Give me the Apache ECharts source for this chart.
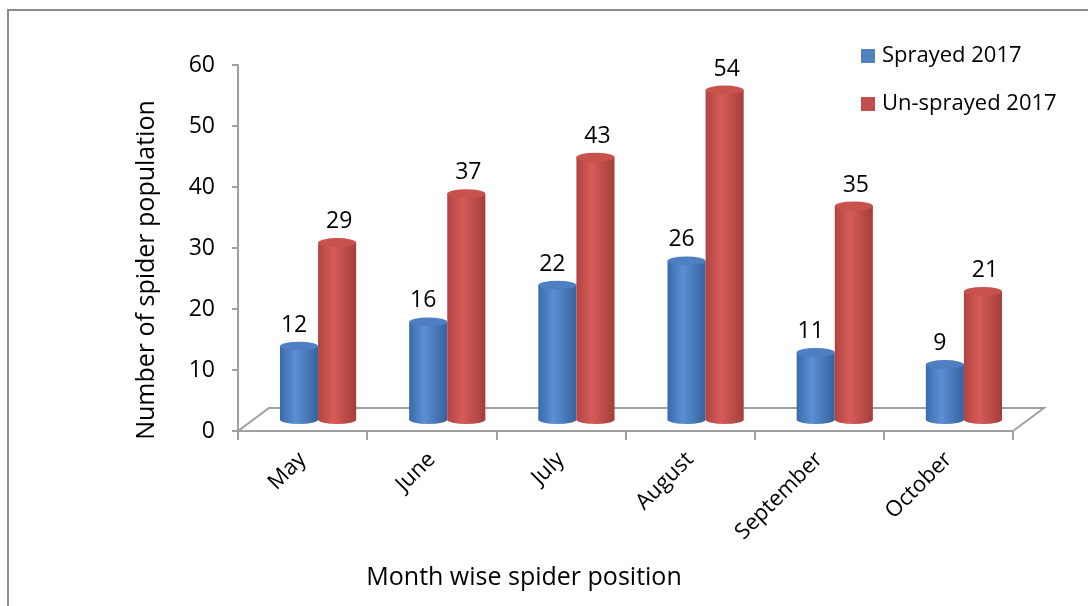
<!DOCTYPE html>
<html>
<head>
<meta charset="utf-8">
<script src="https://cdn.jsdelivr.net/npm/echarts@6/dist/echarts.min.js"></script>
<style>
  html, body { margin: 0; padding: 0; background: #fff; }
  #chart { width: 1088px; height: 606px; }
</style>
</head>
<body>
<div id="chart"></div>
<script>
// Monthly spider counts, sprayed vs. un-sprayed plots (2017)
const categories = ['May', 'June', 'July', 'August', 'September', 'October'];
const sprayed2017 = [12, 16, 22, 26, 11, 9];
const unsprayed2017 = [29, 37, 43, 54, 35, 21];
const seriesNames = ['Sprayed 2017', 'Un-sprayed 2017'];
const xTitle = 'Month wise spider position';
const yTitle = 'Number of spider population';

const FONT = '"Open Sans", "Noto Sans", sans-serif';
const AXIS_GREY = '#a0a0a0';

// pseudo-3D depth of the floor (pixels)
const DEPTH_DX = 31;
const DEPTH_DY = -23;

const palettes = [
  { base: '#4f81bd', left: '#3b6aab', light: '#5b90d4', right: '#36619c', top: '#4d7fc2' },
  { base: '#c0504d', left: '#b04441', light: '#d65c58', right: '#a43d3a', top: '#c9524e' }
];

function ellipse(cx, cy, rx, ry, fill) {
  return {
    type: 'circle',
    x: cx, y: cy,
    scaleY: ry / rx,
    shape: { cx: 0, cy: 0, r: rx },
    style: { fill: fill }
  };
}

function sideGradient(pal) {
  return new echarts.graphic.LinearGradient(0, 0, 1, 0, [
    { offset: 0, color: pal.left },
    { offset: 0.4, color: pal.light },
    { offset: 1, color: pal.right }
  ]);
}

function cylinderRenderer(seriesIdx) {
  const pal = palettes[seriesIdx];
  return function (params, api) {
    const idx = api.value(0);
    const val = api.value(1);
    const top = api.coord([idx, val]);
    const base = api.coord([idx, 0]);
    const band = api.size([1, 0])[0];
    const bw = band * 0.295;
    const x0 = top[0] + DEPTH_DX / 2 + (seriesIdx === 0 ? -bw : 0);
    const cx = x0 + bw / 2;
    const topY = top[1] + DEPTH_DY / 2;
    const botY = base[1] + DEPTH_DY / 2;
    const rx = bw / 2;
    const ry = 4.5;
    return {
      type: 'group',
      children: [
        ellipse(cx, botY, rx, ry, sideGradient(pal)),
        {
          type: 'rect',
          shape: { x: x0, y: topY, width: bw, height: botY - topY },
          style: { fill: sideGradient(pal) }
        },
        ellipse(cx, topY, rx, ry, pal.top),
        {
          type: 'text',
          x: cx + (seriesIdx === 0 ? -5 : 2), y: topY - ry - 5,
          style: {
            text: String(val),
            fill: '#000',
            font: '23px ' + FONT,
            textAlign: 'center',
            textVerticalAlign: 'bottom'
          }
        }
      ]
    };
  };
}

function floorRenderer(params, api) {
  const cs = params.coordSys;
  const fx = cs.x, fy = cs.y + cs.height, w = cs.width;
  return {
    type: 'polyline',
    shape: {
      points: [
        [fx, fy],
        [fx + DEPTH_DX, fy + DEPTH_DY],
        [fx + w + DEPTH_DX, fy + DEPTH_DY],
        [fx + w, fy]
      ]
    },
    style: { stroke: AXIS_GREY, lineWidth: 2, fill: null }
  };
}

const chart = echarts.init(document.getElementById('chart'), null, { renderer: 'canvas' });

chart.setOption({
  animation: false,
  backgroundColor: '#fff',
  textStyle: { fontFamily: FONT },
  grid: { left: 238, top: 65, width: 775, height: 366, containLabel: false },
  legend: {
    orient: 'vertical',
    left: 856,
    top: 40,
    icon: 'rect',
    itemWidth: 14,
    itemHeight: 14,
    itemGap: 26,
    data: seriesNames,
    textStyle: { fontSize: 22, color: '#000', fontFamily: FONT, padding: [0, 0, 0, 2] }
  },
  xAxis: {
    type: 'category',
    data: categories,
    boundaryGap: true,
    axisLine: { lineStyle: { color: AXIS_GREY, width: 2 } },
    axisTick: { show: true, alignWithLabel: false, length: 9, lineStyle: { color: AXIS_GREY, width: 2 } },
    axisLabel: { rotate: 45, fontSize: 22, color: '#000', margin: 25, fontFamily: FONT },
    splitLine: { show: false }
  },
  yAxis: {
    type: 'value',
    min: 0,
    max: 60,
    interval: 10,
    axisLine: { show: true, lineStyle: { color: AXIS_GREY, width: 2 } },
    axisTick: { show: true, length: 6, lineStyle: { color: AXIS_GREY, width: 2 } },
    axisLabel: { fontSize: 23, color: '#000', margin: 23, fontFamily: FONT },
    splitLine: { show: false }
  },
  series: [
    {
      type: 'custom',
      name: 'floor',
      silent: true,
      renderItem: floorRenderer,
      data: [[0, 0]],
      z: 1
    },
    {
      type: 'custom',
      name: seriesNames[0],
      itemStyle: { color: palettes[0].base },
      renderItem: cylinderRenderer(0),
      encode: { x: 0, y: 1 },
      data: sprayed2017.map((v, i) => [i, v]),
      z: 2
    },
    {
      type: 'custom',
      name: seriesNames[1],
      itemStyle: { color: palettes[1].base },
      renderItem: cylinderRenderer(1),
      encode: { x: 0, y: 1 },
      data: unsprayed2017.map((v, i) => [i, v]),
      z: 3
    }
  ],
  graphic: [
    {
      type: 'text',
      x: 524, y: 578,
      style: { text: xTitle, font: '25px ' + FONT, fill: '#000', textAlign: 'center', textVerticalAlign: 'middle' }
    },
    {
      type: 'text',
      x: 147, y: 270,
      rotation: Math.PI / 2,
      style: { text: yTitle, font: '25px ' + FONT, fill: '#000', textAlign: 'center', textVerticalAlign: 'middle' }
    },
    {
      type: 'rect',
      shape: { x: 8, y: 10, width: 1200, height: 700 },
      style: { fill: null, stroke: '#8c8c8c', lineWidth: 2 },
      silent: true,
      z: 100
    }
  ]
});
</script>
</body>
</html>
